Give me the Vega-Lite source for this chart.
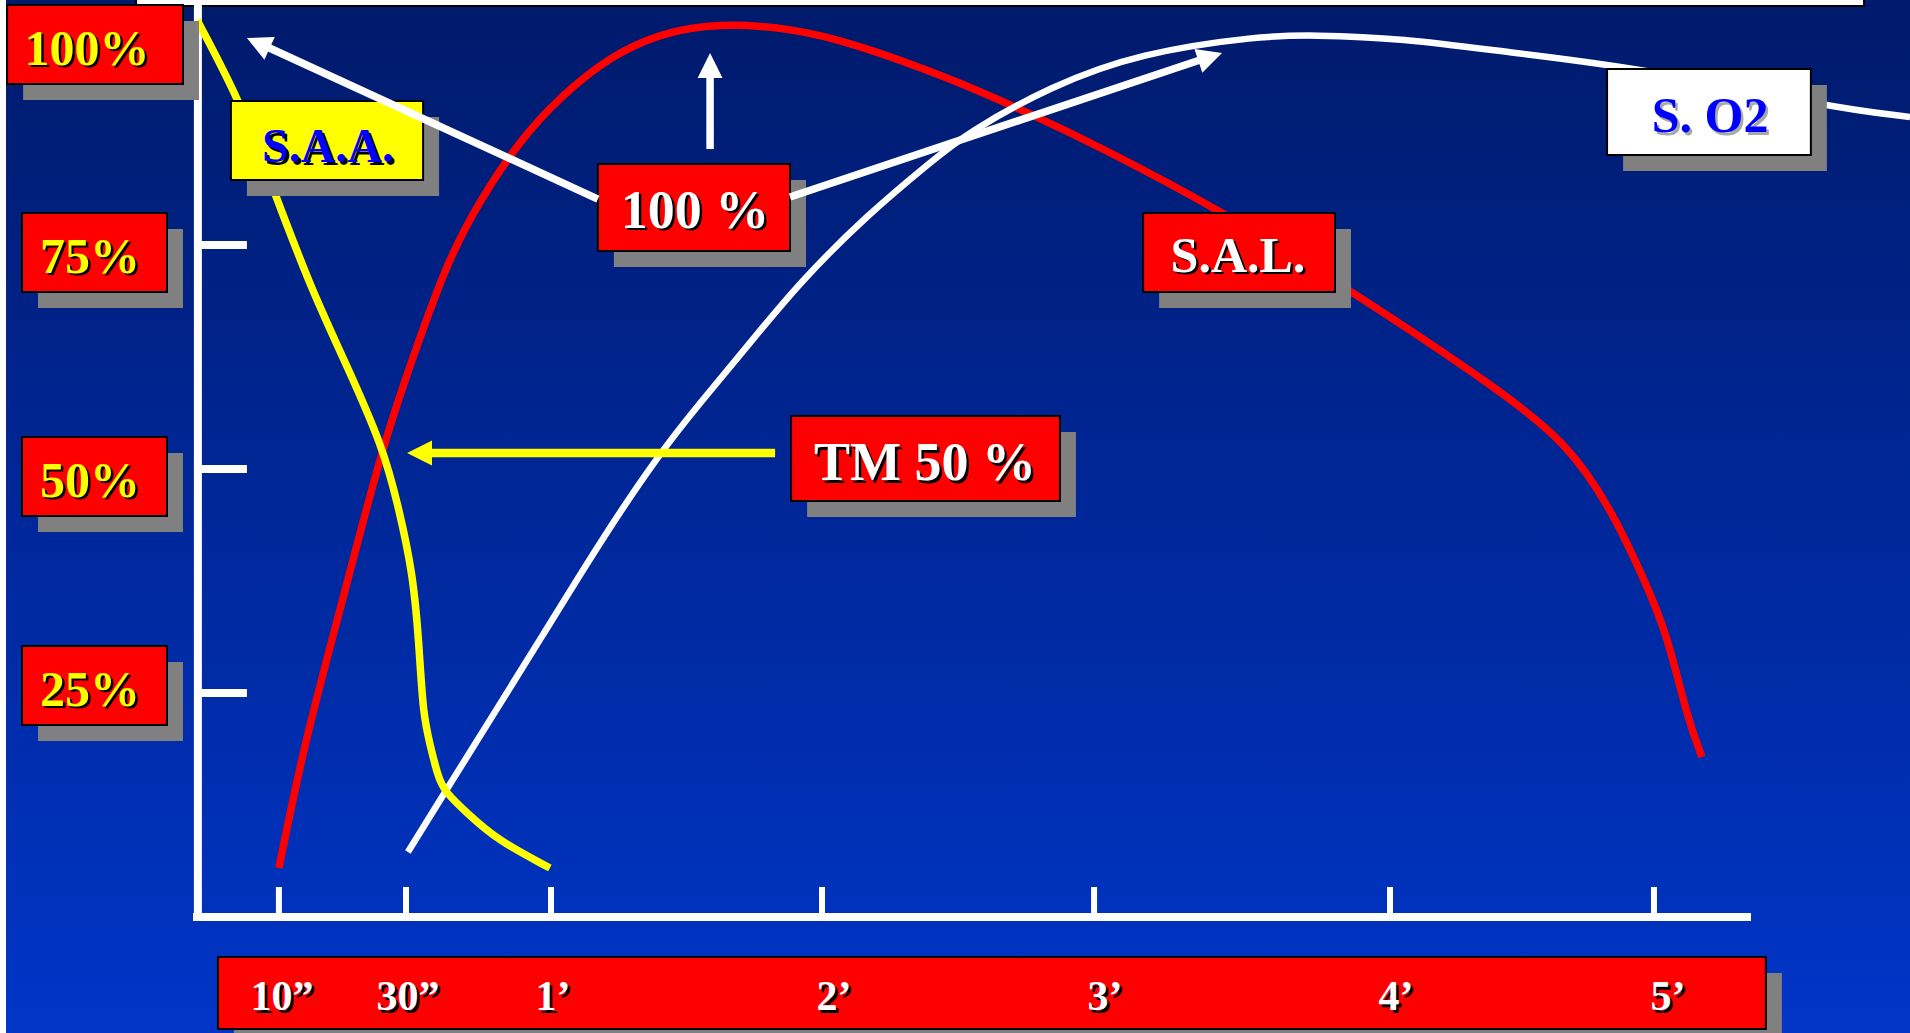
{
  "$schema": "https://vega.github.io/schema/vega-lite/v6.json",
  "width": 1910,
  "height": 1033,
  "autosize": {"type": "fit", "contains": "padding"},
  "padding": 0,
  "background": "#0029a0",
  "config": {"view": {"stroke": null}},
  "datasets": {
    "curves": [
      {"series": "S.A.L.", "i": 1, "t": -0.004, "v": 5.47},
      {"series": "S.A.L.", "i": 2, "t": 0.092, "v": 19.75},
      {"series": "S.A.L.", "i": 3, "t": 0.232, "v": 35.38},
      {"series": "S.A.L.", "i": 4, "t": 0.376, "v": 52.34},
      {"series": "S.A.L.", "i": 5, "t": 0.487, "v": 62.17},
      {"series": "S.A.L.", "i": 6, "t": 0.616, "v": 73.10},
      {"series": "S.A.L.", "i": 7, "t": 0.738, "v": 80.02},
      {"series": "S.A.L.", "i": 8, "t": 0.886, "v": 86.72},
      {"series": "S.A.L.", "i": 9, "t": 1.033, "v": 91.52},
      {"series": "S.A.L.", "i": 10, "t": 1.214, "v": 95.98},
      {"series": "S.A.L.", "i": 11, "t": 1.402, "v": 98.66},
      {"series": "S.A.L.", "i": 12, "t": 1.620, "v": 99.78},
      {"series": "S.A.L.", "i": 13, "t": 1.882, "v": 99.22},
      {"series": "S.A.L.", "i": 14, "t": 2.114, "v": 97.54},
      {"series": "S.A.L.", "i": 15, "t": 2.472, "v": 93.64},
      {"series": "S.A.L.", "i": 16, "t": 2.779, "v": 89.51},
      {"series": "S.A.L.", "i": 17, "t": 3.026, "v": 85.94},
      {"series": "S.A.L.", "i": 18, "t": 3.483, "v": 78.68},
      {"series": "S.A.L.", "i": 19, "t": 3.948, "v": 69.98},
      {"series": "S.A.L.", "i": 20, "t": 4.502, "v": 58.82},
      {"series": "S.A.L.", "i": 21, "t": 4.749, "v": 52.90},
      {"series": "S.A.L.", "i": 22, "t": 4.908, "v": 45.76},
      {"series": "S.A.L.", "i": 23, "t": 5.030, "v": 37.95},
      {"series": "S.A.L.", "i": 24, "t": 5.118, "v": 31.70},
      {"series": "S.A.L.", "i": 25, "t": 5.192, "v": 22.32},
      {"series": "S.A.L.", "i": 26, "t": 5.247, "v": 17.86},
      {"series": "S. O2", "i": 1, "t": 0.472, "v": 7.25},
      {"series": "S. O2", "i": 2, "t": 0.609, "v": 13.95},
      {"series": "S. O2", "i": 3, "t": 0.775, "v": 21.99},
      {"series": "S. O2", "i": 4, "t": 0.959, "v": 30.92},
      {"series": "S. O2", "i": 5, "t": 1.192, "v": 42.41},
      {"series": "S. O2", "i": 6, "t": 1.402, "v": 51.79},
      {"series": "S. O2", "i": 7, "t": 1.550, "v": 57.37},
      {"series": "S. O2", "i": 8, "t": 1.734, "v": 64.06},
      {"series": "S. O2", "i": 9, "t": 1.919, "v": 70.87},
      {"series": "S. O2", "i": 10, "t": 2.166, "v": 78.35},
      {"series": "S. O2", "i": 11, "t": 2.410, "v": 84.49},
      {"series": "S. O2", "i": 12, "t": 2.535, "v": 87.50},
      {"series": "S. O2", "i": 13, "t": 2.845, "v": 92.75},
      {"series": "S. O2", "i": 14, "t": 3.173, "v": 96.43},
      {"series": "S. O2", "i": 15, "t": 3.616, "v": 98.33},
      {"series": "S. O2", "i": 16, "t": 3.808, "v": 98.44},
      {"series": "S. O2", "i": 17, "t": 4.133, "v": 98.10},
      {"series": "S. O2", "i": 18, "t": 4.550, "v": 96.43},
      {"series": "S. O2", "i": 19, "t": 5.026, "v": 94.75},
      {"series": "S. O2", "i": 20, "t": 5.712, "v": 90.40},
      {"series": "S. O2", "i": 21, "t": 6.015, "v": 89.29},
      {"series": "S.A.A.", "i": 1, "t": -0.306, "v": 100.11},
      {"series": "S.A.A.", "i": 2, "t": -0.148, "v": 91.07},
      {"series": "S.A.A.", "i": 3, "t": -0.037, "v": 82.25},
      {"series": "S.A.A.", "i": 4, "t": 0.111, "v": 70.31},
      {"series": "S.A.A.", "i": 5, "t": 0.258, "v": 60.83},
      {"series": "S.A.A.", "i": 6, "t": 0.380, "v": 52.34},
      {"series": "S.A.A.", "i": 7, "t": 0.432, "v": 46.43},
      {"series": "S.A.A.", "i": 8, "t": 0.491, "v": 38.39},
      {"series": "S.A.A.", "i": 9, "t": 0.513, "v": 30.47},
      {"series": "S.A.A.", "i": 10, "t": 0.528, "v": 22.54},
      {"series": "S.A.A.", "i": 11, "t": 0.554, "v": 19.20},
      {"series": "S.A.A.", "i": 12, "t": 0.583, "v": 15.63},
      {"series": "S.A.A.", "i": 13, "t": 0.609, "v": 13.95},
      {"series": "S.A.A.", "i": 14, "t": 0.690, "v": 11.61},
      {"series": "S.A.A.", "i": 15, "t": 0.801, "v": 8.59},
      {"series": "S.A.A.", "i": 16, "t": 0.996, "v": 5.47}
    ],
    "boxes": [
      {"label": "100%", "role": "ylab", "t": -1.007, "t2": -0.358, "v": 101.79, "v2": 92.97},
      {"label": "75%", "role": "ylab", "t": -0.952, "t2": -0.417, "v": 78.57, "v2": 69.75},
      {"label": "50%", "role": "ylab", "t": -0.952, "t2": -0.417, "v": 53.57, "v2": 44.75},
      {"label": "25%", "role": "ylab", "t": -0.952, "t2": -0.417, "v": 30.25, "v2": 21.43},
      {"label": "time", "role": "xlab", "t": -0.229, "t2": 5.483, "v": -4.46, "v2": -12.50},
      {"label": "S.A.A.", "role": "saa", "t": -0.181, "t2": 0.528, "v": 91.07, "v2": 82.25},
      {"label": "100 %", "role": "note", "t": 1.173, "t2": 1.882, "v": 84.04, "v2": 74.33},
      {"label": "TM 50 %", "role": "note", "t": 1.886, "t2": 2.878, "v": 55.92, "v2": 46.43},
      {"label": "S.A.L.", "role": "sal", "t": 3.185, "t2": 3.893, "v": 78.57, "v2": 69.75},
      {"label": "S. O2", "role": "so2", "t": 4.897, "t2": 5.649, "v": 94.64, "v2": 85.04}
    ],
    "texts": [
      {"label": "100%", "role": "ylab", "t": -0.712, "v": 95.09},
      {"label": "75%", "role": "ylab", "t": -0.701, "v": 71.88},
      {"label": "50%", "role": "ylab", "t": -0.701, "v": 46.88},
      {"label": "25%", "role": "ylab", "t": -0.701, "v": 23.55},
      {"label": "10\u201d", "role": "xlab", "t": 0.007, "v": -10.38},
      {"label": "30\u201d", "role": "xlab", "t": 0.472, "v": -10.38},
      {"label": "1\u2019", "role": "xlab", "t": 1.007, "v": -10.38},
      {"label": "2\u2019", "role": "xlab", "t": 2.044, "v": -10.38},
      {"label": "3\u2019", "role": "xlab", "t": 3.044, "v": -10.38},
      {"label": "4\u2019", "role": "xlab", "t": 4.118, "v": -10.38},
      {"label": "5\u2019", "role": "xlab", "t": 5.122, "v": -10.38},
      {"label": "100 %", "role": "note", "t": 1.531, "v": 76.90},
      {"label": "TM 50 %", "role": "note", "t": 2.380, "v": 48.77},
      {"label": "S.A.L.", "role": "sal", "t": 3.535, "v": 71.99},
      {"label": "S.A.A.", "role": "saa", "t": 0.177, "v": 84.26},
      {"label": "S. O2", "role": "so2", "t": 5.277, "v": 87.61}
    ],
    "rules": [
      {"part": "axis", "t": -0.303, "t2": -0.303, "v": 102.344, "v2": -0.45},
      {"part": "axis", "t": -0.321, "t2": 5.428, "v": 0, "v2": 0},
      {"part": "tick", "t": -0.303, "t2": -0.122, "v": 75, "v2": 75},
      {"part": "tick", "t": -0.303, "t2": -0.122, "v": 50, "v2": 50},
      {"part": "tick", "t": -0.303, "t2": -0.122, "v": 25, "v2": 25}
    ],
    "xticks": [
      {"label": "10\u201d", "t": -0.004, "v": 3.35, "v2": 0},
      {"label": "30\u201d", "t": 0.465, "v": 3.35, "v2": 0},
      {"label": "1\u2019", "t": 1.0, "v": 3.35, "v2": 0},
      {"label": "2\u2019", "t": 2.0, "v": 3.35, "v2": 0},
      {"label": "3\u2019", "t": 3.004, "v": 3.35, "v2": 0},
      {"label": "4\u2019", "t": 4.096, "v": 3.35, "v2": 0},
      {"label": "5\u2019", "t": 5.070, "v": 3.35, "v2": 0}
    ],
    "shafts": [
      {"arrow": "a1", "t": 1.173, "v": 80.13, "t2": -0.055, "v2": 97.21},
      {"arrow": "a2", "t": 1.587, "v": 85.71, "t2": 1.587, "v2": 94.20},
      {"arrow": "a3", "t": 1.882, "v": 80.36, "t2": 3.406, "v2": 95.76},
      {"arrow": "tm", "t": 1.827, "v": 51.79, "t2": 0.542, "v2": 51.79}
    ],
    "heads": [
      {"arrow": "a1", "t": -0.122, "v": 98.10},
      {"arrow": "a2", "t": 1.587, "v": 96.43},
      {"arrow": "a3", "t": 3.476, "v": 96.43},
      {"arrow": "tm", "t": 0.469, "v": 51.79}
    ]
  },
  "encoding": {
    "x": {"field": "t", "type": "quantitative", "scale": {"domain": [-1.0332, 6.0148], "nice": false, "zero": false}, "axis": null},
    "y": {"field": "v", "type": "quantitative", "scale": {"domain": [-12.946, 102.344], "nice": false, "zero": false}, "axis": null}
  },
  "layer": [
    {
      "data": {"values": [{"t": -1.0332, "t2": 6.0148, "v": 102.344, "v2": -12.946}]},
      "mark": {"type": "rect", "color": {"gradient": "linear", "x1": 0, "y1": 0, "x2": 0, "y2": 1, "stops": [{"offset": 0, "color": "#001a6b"}, {"offset": 1, "color": "#0035c8"}]}},
      "encoding": {"x2": {"field": "t2"}, "y2": {"field": "v2"}}
    },
    {
      "data": {"values": [{"t": -1.0332, "t2": -1.011, "v": 102.344, "v2": -12.946}]},
      "mark": {"type": "rect", "color": "#ffffff"},
      "encoding": {"x2": {"field": "t2"}, "y2": {"field": "v2"}}
    },
    {
      "data": {"values": [{"t": -0.531, "t2": 5.845, "v": 103.5, "v2": 101.67}]},
      "mark": {"type": "rect", "fill": "#ffffff", "stroke": "#000000", "strokeWidth": 2, "clip": true},
      "encoding": {"x2": {"field": "t2"}, "y2": {"field": "v2"}}
    },
    {
      "data": {"name": "rules"},
      "mark": {"type": "rule", "color": "#ffffff", "strokeWidth": 8, "strokeCap": "butt", "clip": true},
      "encoding": {"x2": {"field": "t2"}, "y2": {"field": "v2"}}
    },
    {
      "data": {"name": "xticks"},
      "mark": {"type": "rule", "color": "#ffffff", "strokeWidth": 6, "strokeCap": "butt"},
      "encoding": {"y2": {"field": "v2"}}
    },
    {
      "data": {"name": "curves"},
      "transform": [{"filter": "datum.series == 'S.A.L.'"}],
      "mark": {"type": "line", "color": "#ff0000", "strokeWidth": 7.5, "interpolate": "basis", "strokeCap": "butt", "clip": true},
      "encoding": {"order": {"field": "i", "type": "quantitative"}}
    },
    {
      "data": {"name": "curves"},
      "transform": [{"filter": "datum.series == 'S. O2'"}],
      "mark": {"type": "line", "color": "#ffffff", "strokeWidth": 6.5, "interpolate": "basis", "strokeCap": "butt", "clip": true},
      "encoding": {"order": {"field": "i", "type": "quantitative"}}
    },
    {
      "data": {"name": "curves"},
      "transform": [{"filter": "datum.series == 'S.A.A.'"}],
      "mark": {"type": "line", "color": "#ffff00", "strokeWidth": 7.5, "interpolate": "basis", "strokeCap": "butt", "clip": true},
      "encoding": {"order": {"field": "i", "type": "quantitative"}}
    },
    {
      "data": {"name": "boxes"},
      "mark": {"type": "rect", "color": "#808080", "xOffset": 16, "x2Offset": 16, "yOffset": 16, "y2Offset": 16, "clip": true},
      "encoding": {"x2": {"field": "t2"}, "y2": {"field": "v2"}}
    },
    {
      "data": {"name": "boxes"},
      "transform": [{"filter": "datum.role != 'saa' && datum.role != 'so2'"}],
      "mark": {"type": "rect", "fill": "#ff0000", "stroke": "#000000", "strokeWidth": 2},
      "encoding": {"x2": {"field": "t2"}, "y2": {"field": "v2"}}
    },
    {
      "data": {"name": "boxes"},
      "transform": [{"filter": "datum.role == 'saa'"}],
      "mark": {"type": "rect", "fill": "#ffff00", "stroke": "#000000", "strokeWidth": 2},
      "encoding": {"x2": {"field": "t2"}, "y2": {"field": "v2"}}
    },
    {
      "data": {"name": "boxes"},
      "transform": [{"filter": "datum.role == 'so2'"}],
      "mark": {"type": "rect", "fill": "#ffffff", "stroke": "#000000", "strokeWidth": 2},
      "encoding": {"x2": {"field": "t2"}, "y2": {"field": "v2"}}
    },
    {
      "data": {"name": "shafts"},
      "transform": [{"filter": "datum.arrow != 'tm'"}],
      "mark": {"type": "rule", "color": "#ffffff", "strokeWidth": 7.5, "strokeCap": "butt"},
      "encoding": {"x2": {"field": "t2"}, "y2": {"field": "v2"}}
    },
    {
      "data": {"name": "shafts"},
      "transform": [{"filter": "datum.arrow == 'tm'"}],
      "mark": {"type": "rule", "color": "#ffff00", "strokeWidth": 8.5, "strokeCap": "butt"},
      "encoding": {"x2": {"field": "t2"}, "y2": {"field": "v2"}}
    },
    {
      "data": {"name": "heads"},
      "transform": [{"filter": "datum.arrow == 'a1'"}],
      "mark": {"type": "point", "shape": "M0,0L1,2L-1,2Z", "size": 620, "angle": 294.6, "filled": true, "color": "#ffffff", "opacity": 1, "strokeWidth": 0}
    },
    {
      "data": {"name": "heads"},
      "transform": [{"filter": "datum.arrow == 'a2'"}],
      "mark": {"type": "point", "shape": "M0,0L1,2L-1,2Z", "size": 620, "angle": 0, "filled": true, "color": "#ffffff", "opacity": 1, "strokeWidth": 0}
    },
    {
      "data": {"name": "heads"},
      "transform": [{"filter": "datum.arrow == 'a3'"}],
      "mark": {"type": "point", "shape": "M0,0L1,2L-1,2Z", "size": 620, "angle": 71.5, "filled": true, "color": "#ffffff", "opacity": 1, "strokeWidth": 0}
    },
    {
      "data": {"name": "heads"},
      "transform": [{"filter": "datum.arrow == 'tm'"}],
      "mark": {"type": "point", "shape": "M0,0L1,2L-1,2Z", "size": 620, "angle": 270, "filled": true, "color": "#ffff00", "opacity": 1, "strokeWidth": 0}
    },
    {
      "data": {"name": "texts"},
      "transform": [{"filter": "datum.role == 'ylab' || datum.role == 'sal'"}],
      "mark": {"type": "text", "font": "Liberation Serif", "fontWeight": "bold", "fontSize": 50, "align": "center", "baseline": "alphabetic", "color": "#000000", "dx": 2.5, "dy": 2.5},
      "encoding": {"text": {"field": "label"}}
    },
    {
      "data": {"name": "texts"},
      "transform": [{"filter": "datum.role == 'note'"}],
      "mark": {"type": "text", "font": "Liberation Serif", "fontWeight": "bold", "fontSize": 54, "align": "center", "baseline": "alphabetic", "color": "#000000", "dx": 2.5, "dy": 2.5},
      "encoding": {"text": {"field": "label"}}
    },
    {
      "data": {"name": "texts"},
      "transform": [{"filter": "datum.role == 'saa'"}],
      "mark": {"type": "text", "font": "Liberation Serif", "fontWeight": "bold", "fontSize": 48, "align": "center", "baseline": "alphabetic", "color": "#000000", "dx": 2.5, "dy": 2.5},
      "encoding": {"text": {"field": "label"}}
    },
    {
      "data": {"name": "texts"},
      "transform": [{"filter": "datum.role == 'xlab'"}],
      "mark": {"type": "text", "font": "Liberation Serif", "fontWeight": "bold", "fontSize": 42, "align": "center", "baseline": "alphabetic", "color": "#000000", "dx": 2.5, "dy": 2.5},
      "encoding": {"text": {"field": "label"}}
    },
    {
      "data": {"name": "texts"},
      "transform": [{"filter": "datum.role == 'so2'"}],
      "mark": {"type": "text", "font": "Liberation Serif", "fontWeight": "bold", "fontSize": 50, "align": "center", "baseline": "alphabetic", "color": "#a8a8a8", "dx": 2.5, "dy": 2.5},
      "encoding": {"text": {"field": "label"}}
    },
    {
      "data": {"name": "texts"},
      "transform": [{"filter": "datum.role == 'ylab'"}],
      "mark": {"type": "text", "font": "Liberation Serif", "fontWeight": "bold", "fontSize": 50, "align": "center", "baseline": "alphabetic", "color": "#ffff00"},
      "encoding": {"text": {"field": "label"}}
    },
    {
      "data": {"name": "texts"},
      "transform": [{"filter": "datum.role == 'sal'"}],
      "mark": {"type": "text", "font": "Liberation Serif", "fontWeight": "bold", "fontSize": 50, "align": "center", "baseline": "alphabetic", "color": "#ffffff"},
      "encoding": {"text": {"field": "label"}}
    },
    {
      "data": {"name": "texts"},
      "transform": [{"filter": "datum.role == 'note'"}],
      "mark": {"type": "text", "font": "Liberation Serif", "fontWeight": "bold", "fontSize": 54, "align": "center", "baseline": "alphabetic", "color": "#ffffff"},
      "encoding": {"text": {"field": "label"}}
    },
    {
      "data": {"name": "texts"},
      "transform": [{"filter": "datum.role == 'saa'"}],
      "mark": {"type": "text", "font": "Liberation Serif", "fontWeight": "bold", "fontSize": 48, "align": "center", "baseline": "alphabetic", "color": "#0000ff"},
      "encoding": {"text": {"field": "label"}}
    },
    {
      "data": {"name": "texts"},
      "transform": [{"filter": "datum.role == 'so2'"}],
      "mark": {"type": "text", "font": "Liberation Serif", "fontWeight": "bold", "fontSize": 50, "align": "center", "baseline": "alphabetic", "color": "#0000ff"},
      "encoding": {"text": {"field": "label"}}
    },
    {
      "data": {"name": "texts"},
      "transform": [{"filter": "datum.role == 'xlab'"}],
      "mark": {"type": "text", "font": "Liberation Serif", "fontWeight": "bold", "fontSize": 42, "align": "center", "baseline": "alphabetic", "color": "#ffffff"},
      "encoding": {"text": {"field": "label"}}
    }
  ]
}
